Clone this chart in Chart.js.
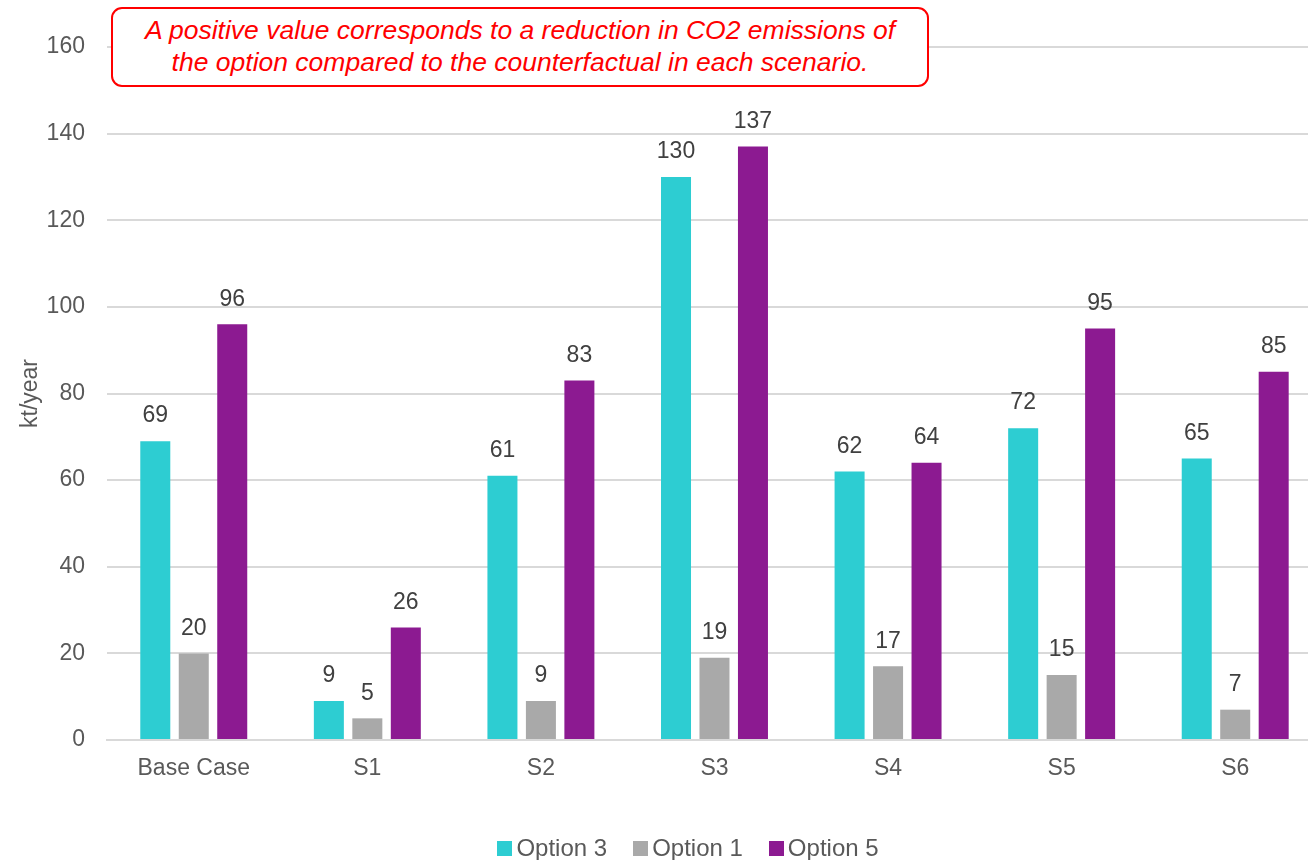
<!DOCTYPE html>
<html>
<head>
<meta charset="utf-8">
<script src="https://cdn.jsdelivr.net/npm/chart.js@4"></script>
<style>
  html, body { margin: 0; padding: 0; background: #fff; overflow: hidden; }
  #wrap { position: relative; width: 1308px; height: 860px; overflow: hidden; }
  #chart { position: absolute; left: 0; top: 0; }
  #note {
    position: absolute; left: 111px; top: 7px; width: 814px; height: 71px;
    border: 2px solid #ff0000; border-radius: 11px; background: #fff;
    color: #ff0000; font-family: "Liberation Sans", Arial, sans-serif;
    font-style: italic; font-size: 26.5px; line-height: 32px;
    text-align: center; padding-top: 5px; box-sizing: content-box;
  }
  #legend {
    position: absolute; left: 34px; top: 834px; width: 1308px; height: 28px;
    display: flex; justify-content: center; align-items: center; gap: 26px;
    font-family: "Liberation Sans", Arial, sans-serif; font-size: 24px; color: #595959;
  }
  #legend span.item { display: flex; align-items: center; gap: 4px; }
  #legend span.box { display: inline-block; width: 15px; height: 15px; }
</style>
</head>
<body>
<div id="wrap">
  <!-- canvas is a bit wider than the frame: the plot runs past the right edge -->
  <canvas id="chart" width="1322" height="860"></canvas>
  <div id="note">A positive value corresponds to a reduction in CO2 emissions of<br>the option compared to the counterfactual in each scenario.</div>
  <div id="legend"></div>
</div>
<script>
const categories = ["Base Case", "S1", "S2", "S3", "S4", "S5", "S6"];
const option3 = [69, 9, 61, 130, 62, 72, 65];
const option1 = [20, 5, 9, 19, 17, 15, 7];
const option5 = [96, 26, 83, 137, 64, 95, 85];

const FONT = "'Liberation Sans', Arial, sans-serif";

// draws the value above each bar
const barValues = {
  id: "barValues",
  afterDatasetsDraw(chart) {
    const ctx = chart.ctx;
    ctx.save();
    ctx.font = "23px " + FONT;
    ctx.fillStyle = "#404040";
    ctx.textAlign = "center";
    ctx.textBaseline = "middle";
    chart.data.datasets.forEach((ds, i) => {
      chart.getDatasetMeta(i).data.forEach((bar, j) => {
        ctx.fillText(ds.data[j], bar.x, bar.y - 25);
      });
    });
    ctx.restore();
  }
};

const chart = new Chart(document.getElementById("chart"), {
  type: "bar",
  data: {
    labels: categories,
    datasets: [
      { label: "Option 3", data: option3, backgroundColor: "#2dcdd2" },
      { label: "Option 1", data: option1, backgroundColor: "#a9a9a9" },
      { label: "Option 5", data: option5, backgroundColor: "#8c1a91" }
    ]
  },
  options: {
    responsive: false,
    animation: false,
    categoryPercentage: 0.665,
    barPercentage: 0.78,
    layout: { padding: { top: 47, right: 0, left: 0, bottom: 0 } },
    plugins: {
      legend: { display: false },
      tooltip: { enabled: false }
    },
    scales: {
      x: {
        grid: { display: false },
        border: { color: "#d9d9d9", width: 2 },
        ticks: { font: { size: 23, family: FONT }, color: "#595959", padding: 7 },
        // fixed band under the plot for the category labels and legend
        afterFit(scale) { scale.height = 120; }
      },
      y: {
        min: 0,
        max: 160,
        ticks: { stepSize: 20, font: { size: 23, family: FONT }, color: "#595959", padding: 22 },
        grid: { color: "#d9d9d9", lineWidth: 2, drawTicks: false },
        border: { display: false },
        title: { display: true, text: "kt/year", font: { size: 23, family: FONT }, color: "#595959", padding: { top: 17, bottom: -20 } }
      }
    }
  },
  plugins: [barValues]
});

// legend row built from the datasets
document.getElementById("legend").innerHTML = chart.data.datasets.map(
  ds => `<span class="item"><span class="box" style="background:${ds.backgroundColor}"></span>${ds.label}</span>`
).join("");
</script>
</body>
</html>
